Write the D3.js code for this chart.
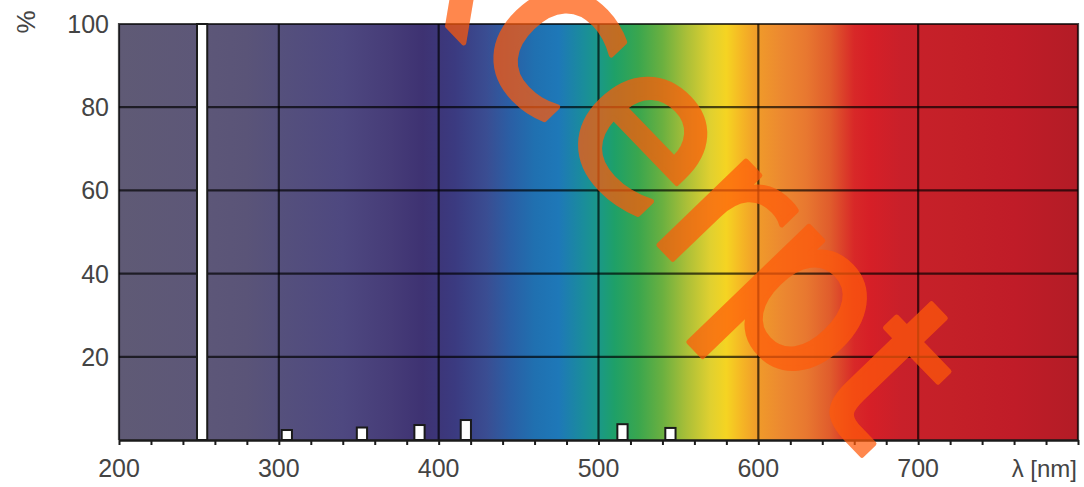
<!DOCTYPE html>
<html>
<head>
<meta charset="utf-8">
<script src="https://cdn.jsdelivr.net/npm/d3@7"></script>
<style>
  html, body { margin: 0; padding: 0; background: #fff; }
  svg { display: block; font-family: "Liberation Sans", Arial, sans-serif; }
</style>
</head>
<body>
<div id="chart"></div>
<script>
// ─── Daten ────────────────────────────────────────────────────────────────────

// Emissionslinien: Wellenlänge (nm) und relative Intensität (%)
const lineNm    = [252, 305, 352, 388, 417, 515, 545];
const linePct   = [100, 2.4, 3.0, 3.6, 4.8, 3.8, 2.9];

const xTicks    = [200, 300, 400, 500, 600, 700];
const yTicks    = [20, 40, 60, 80, 100];
const xUnit     = 'λ [nm]';
const yUnit     = '%';

// Hintergrund-Spektrum (nm → Farbe)
const spectrumNm    = [200, 250, 280, 300, 340, 370, 390, 410, 430, 445, 460, 475, 490, 500, 510, 525, 540, 555, 570, 580, 590, 600, 615, 630, 645, 660, 670, 690, 720, 760, 800];
const spectrumColor = ['#5f5a75', '#5d5778', '#5a5478', '#55507c', '#4e4880', '#463c78', '#3e3272', '#3b3a80', '#3a4d92', '#2a5fa5', '#2070b0', '#1e78b8', '#1a8c9c', '#1a9888', '#1ea068', '#3aa64e', '#6ab040', '#aabf38', '#e0d030', '#f5d422', '#f5b525', '#f09a2a', '#ec8830', '#e87830', '#e05c2c', '#d82828', '#d61f27', '#c8202a', '#c42028', '#c01c28', '#b31c26'];

const watermark = 'excerpt';

// ─── Layout ───────────────────────────────────────────────────────────────────

const W = 1084, H = 487;
const margin = { top: 24, right: 6, bottom: 47, left: 119 };
const width  = W - margin.left - margin.right;
const height = H - margin.top  - margin.bottom;

const svg = d3.select('#chart')
  .append('svg')
    .attr('width',  W)
    .attr('height', H);

const g = svg.append('g')
  .attr('transform', `translate(${margin.left}, ${margin.top})`);

const x = d3.scaleLinear().domain([200, 800]).range([0, width]);
const y = d3.scaleLinear().domain([0, 100]).range([height, 0]);

// ─── Spektrum-Verlauf ─────────────────────────────────────────────────────────

const grad = svg.append('defs').append('linearGradient')
  .attr('id', 'spectrum')
  .attr('gradientUnits', 'userSpaceOnUse')
  .attr('x1', x(200)).attr('x2', x(800))
  .attr('y1', 0).attr('y2', 0);

grad.selectAll('stop')
  .data(spectrumNm)
  .enter()
  .append('stop')
    .attr('offset',     d => (d - 200) / 600)
    .attr('stop-color', (_d, i) => spectrumColor[i]);

g.append('rect')
  .attr('x', 0).attr('y', 0)
  .attr('width', width).attr('height', height)
  .attr('fill', 'url(#spectrum)');

// ─── Gitter ───────────────────────────────────────────────────────────────────

const gridColor = 'rgba(0,0,0,0.68)';

g.selectAll('.vgrid')
  .data(xTicks.filter(d => d > 200))
  .enter()
  .append('line')
    .attr('class', 'vgrid')
    .attr('x1', d => x(d)).attr('x2', d => x(d))
    .attr('y1', 0).attr('y2', height)
    .attr('stroke', gridColor)
    .attr('stroke-width', 2.2);

g.selectAll('.hgrid')
  .data(yTicks.filter(d => d < 100))
  .enter()
  .append('line')
    .attr('class', 'hgrid')
    .attr('x1', 0).attr('x2', width)
    .attr('y1', d => y(d)).attr('y2', d => y(d))
    .attr('stroke', gridColor)
    .attr('stroke-width', 2.2);

// Rahmen oben / links / rechts
g.append('path')
  .attr('d', `M0,${height}V0H${width}V${height}`)
  .attr('fill', 'none')
  .attr('stroke', 'rgba(0,0,0,0.72)')
  .attr('stroke-width', 2.2);

// ─── Emissionslinien ──────────────────────────────────────────────────────────

const halfBar = 3.2; // nm

g.selectAll('.bar')
  .data(lineNm)
  .enter()
  .append('rect')
    .attr('class', 'bar')
    .attr('x',      d => x(d - halfBar))
    .attr('y',      (_d, i) => y(linePct[i]))
    .attr('width',  d => x(d + halfBar) - x(d - halfBar))
    .attr('height', (_d, i) => y(0) - y(linePct[i]))
    .attr('fill',   '#fff')
    .attr('stroke', '#1a1a1a')
    .attr('stroke-width', 2);

// ─── Achsen ───────────────────────────────────────────────────────────────────

const xAxis = d3.axisBottom(x)
  .tickValues(d3.range(200, 801, 20))
  .tickSize(5)
  .tickSizeOuter(0)
  .tickFormat('');

const xg = g.append('g')
  .attr('transform', `translate(0, ${height})`)
  .call(xAxis);
xg.select('.domain').attr('stroke', '#1a1a1a').attr('stroke-width', 2.5);
xg.selectAll('.tick line').attr('stroke', '#1a1a1a').attr('stroke-width', 2);

const labelColor = '#444';

g.selectAll('.xlabel')
  .data(xTicks)
  .enter()
  .append('text')
    .attr('class', 'xlabel')
    .attr('x', d => x(d))
    .attr('y', height + 37)
    .attr('text-anchor', 'middle')
    .attr('font-size', 25)
    .attr('fill', labelColor)
    .text(d => d);

g.append('text')
  .attr('x', x(800) - 1)
  .attr('y', height + 37)
  .attr('text-anchor', 'end')
  .attr('font-size', 24)
  .attr('fill', labelColor)
  .text(xUnit);

g.selectAll('.ylabel')
  .data(yTicks)
  .enter()
  .append('text')
    .attr('class', 'ylabel')
    .attr('x', -10)
    .attr('y', d => y(d))
    .attr('dy', '0.36em')
    .attr('text-anchor', 'end')
    .attr('font-size', 25)
    .attr('fill', labelColor)
    .text(d => d);

svg.append('text')
  .attr('transform', 'translate(35, 22) rotate(-90)')
  .attr('text-anchor', 'middle')
  .attr('font-size', 26)
  .attr('fill', labelColor)
  .text(yUnit);

// ─── Wasserzeichen ────────────────────────────────────────────────────────────

svg.append('text')
  .attr('transform', 'translate(576, 159) rotate(46)')
  .attr('text-anchor', 'middle')
  .attr('font-family', '"DejaVu Sans", sans-serif')
  .attr('font-size', 221)
  .attr('fill', '#ff5a0a')
  .attr('stroke', '#ff5a0a')
  .attr('stroke-width', 5)
  .attr('stroke-linejoin', 'round')
  .attr('opacity', 0.72)
  .text(watermark);
</script>
</body>
</html>
